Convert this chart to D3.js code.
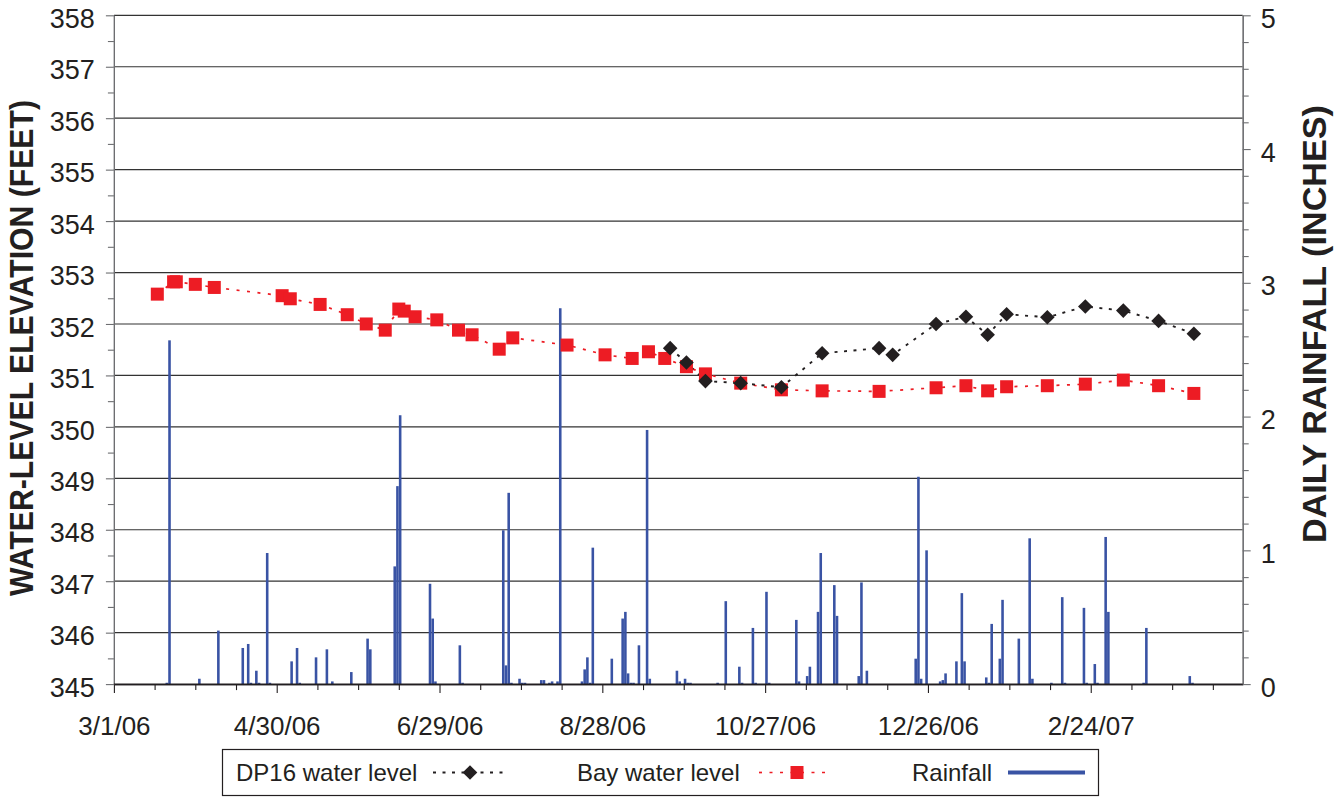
<!DOCTYPE html>
<html>
<head>
<meta charset="utf-8">
<script src="https://cdn.jsdelivr.net/npm/d3@7"></script>
<style>
  html, body { margin: 0; padding: 0; background: #fff; }
  svg { display: block; }
  text { font-family: "Liberation Sans", Arial, Helvetica, sans-serif; fill: #231f20; }
</style>
</head>
<body>
<svg id="chart" width="1338" height="797"></svg>
<script>
// ---- data ---------------------------------------------------------------
const axisStart = "3/1/06";
const axisEnd = "4/21/07";

// Bay water level (feet)
const bayDates = ["3/17/06","3/23/06","3/24/06","3/31/06","4/7/06","5/2/06","5/5/06","5/16/06","5/26/06","6/2/06",
  "6/9/06","6/14/06","6/16/06","6/20/06","6/28/06","7/6/06","7/11/06","7/21/06","7/26/06","8/15/06",
  "8/29/06","9/8/06","9/14/06","9/20/06","9/28/06","10/5/06","10/18/06","11/2/06","11/17/06","12/8/06",
  "12/29/06","1/9/07","1/17/07","1/24/07","2/8/07","2/22/07","3/8/07","3/21/07","4/3/07"];
const bayLevels = [352.58,352.82,352.82,352.77,352.71,352.55,352.49,352.38,352.18,352.00,
  351.88,352.29,352.25,352.14,352.08,351.88,351.79,351.51,351.73,351.59,
  351.40,351.33,351.46,351.33,351.17,351.03,350.85,350.72,350.70,350.69,
  350.76,350.80,350.70,350.78,350.80,350.83,350.91,350.80,350.65];

// DP16 water level (feet)
const dp16Dates = ["9/22/06","9/28/06","10/5/06","10/18/06","11/2/06","11/17/06","12/8/06","12/13/06","12/29/06",
  "1/9/07","1/17/07","1/24/07","2/8/07","2/22/07","3/8/07","3/21/07","4/3/07"];
const dp16Levels = [351.53,351.25,350.89,350.85,350.77,351.43,351.53,351.40,352.00,
  352.14,351.79,352.19,352.13,352.34,352.26,352.06,351.81];

// Daily rainfall (inches)
const rainDates = ["3/20/06","3/21/06","4/1/06","4/8/06","4/17/06","4/19/06","4/20/06","4/22/06","4/23/06","4/26/06",
  "4/27/06","5/5/06","5/7/06","5/8/06","5/14/06","5/18/06","5/20/06","5/27/06","6/2/06","6/3/06",
  "6/12/06","6/13/06","6/14/06","6/25/06","6/26/06","6/27/06","7/6/06","7/7/06","7/22/06","7/23/06",
  "7/24/06","7/25/06","7/28/06","7/29/06","7/30/06","8/5/06","8/6/06","8/8/06","8/9/06","8/11/06",
  "8/12/06","8/20/06","8/21/06","8/22/06","8/23/06","8/24/06","8/31/06","9/4/06","9/5/06","9/6/06",
  "9/7/06","9/8/06","9/10/06","9/13/06","9/14/06","9/24/06","9/25/06","9/27/06","9/28/06","9/29/06",
  "10/9/06","10/12/06","10/17/06","10/18/06","10/22/06","10/23/06","10/27/06","10/28/06","11/7/06","11/8/06",
  "11/11/06","11/12/06","11/15/06","11/16/06","11/21/06","11/22/06","11/30/06","12/1/06","12/3/06","12/21/06",
  "12/22/06","12/23/06","12/25/06","12/30/06","12/31/06","1/1/07","1/5/07","1/7/07","1/8/07","1/16/07",
  "1/17/07","1/18/07","1/21/07","1/22/07","1/28/07","2/1/07","2/2/07","2/9/07","2/13/07","2/14/07",
  "2/21/07","2/22/07","2/25/07","2/26/07","3/1/07","3/2/07","3/15/07","3/16/07","4/1/07","4/2/07"];
const rainInches = [0.01,2.57,0.04,0.40,0.27,0.30,0.01,0.10,0.01,0.98,
  0.01,0.17,0.27,0.01,0.20,0.26,0.02,0.09,0.34,0.26,
  0.88,1.48,2.01,0.75,0.49,0.02,0.29,0.01,1.15,0.14,
  1.43,0.01,0.04,0.01,0.01,0.03,0.03,0.01,0.02,0.02,
  2.81,0.02,0.11,0.20,0.01,1.02,0.19,0.49,0.54,0.08,
  0.01,0.01,0.29,1.90,0.04,0.10,0.02,0.04,0.01,0.01,
  0.01,0.62,0.13,0.01,0.42,0.01,0.69,0.01,0.48,0.02,
  0.06,0.13,0.54,0.98,0.74,0.51,0.06,0.76,0.10,0.19,
  1.55,0.04,1.00,0.02,0.03,0.08,0.17,0.68,0.17,0.05,
  0.01,0.45,0.19,0.63,0.34,1.09,0.04,0.01,0.65,0.01,
  0.57,0.01,0.15,0.01,1.10,0.54,0.01,0.42,0.06,0.01];

const levelTicks = d3.range(345, 359, 1);
const levelMinorTicks = d3.range(345.5, 358, 1);
const rainTicks = d3.range(0, 6, 1);
const rainMinorTicks = d3.range(0.2, 5, 0.2).filter(v => Math.abs(v - Math.round(v)) > 1e-6);
const dateTickDays = 15;   // minor date tick spacing
const dateLabelDays = 60;  // labelled date tick spacing

const legendItems = ["DP16 water level", "Bay water level", "Rainfall"];

// ---- setup --------------------------------------------------------------
const parse = d3.utcParse("%m/%d/%y");
const fmt = d3.utcFormat("%-m/%-d/%y");
const svg = d3.select("#chart");
const plot = { left: 113.9, right: 1242.7, top: 15.3, bottom: 684.1 };

const start = parse(axisStart), end = parse(axisEnd);
const x = d3.scaleUtc().domain([start, end]).range([plot.left, plot.right]);
const y = d3.scaleLinear().domain([345, 358]).range([plot.bottom, plot.top]);
const yRain = d3.scaleLinear().domain([0, 5]).range([plot.bottom, plot.top]);

const COLORS = { grid: "#333", axis: "#6d6e71", bay: "#ed1c24", dp16: "#231f20", rain: "#3953a4" };

const bay = bayDates.map((d, i) => ({ date: parse(d), v: bayLevels[i] }));
const dp16 = dp16Dates.map((d, i) => ({ date: parse(d), v: dp16Levels[i] }));
const rain = rainDates.map((d, i) => ({ date: parse(d), v: rainInches[i] }));

// ---- gridlines ----------------------------------------------------------
svg.append("g").selectAll("line")
  .data(levelTicks.filter(v => v > 345))
  .join("line")
  .attr("x1", plot.left).attr("x2", plot.right)
  .attr("y1", d => y(d)).attr("y2", d => y(d))
  .attr("stroke", COLORS.grid).attr("stroke-width", 1.2);

// ---- rainfall bars --------------------------------------------------------
const dayW = x(d3.utcDay.offset(start, 1)) - x(start);
svg.append("g").selectAll("rect")
  .data(rain)
  .join("rect")
  .attr("x", d => x(d.date) + dayW * 0.02)
  .attr("width", dayW * 0.95)
  .attr("y", d => yRain(d.v))
  .attr("height", d => yRain(0) - yRain(d.v))
  .attr("fill", COLORS.rain);

// ---- axes ---------------------------------------------------------------
const allDateTicks = d3.range(0, d3.utcDay.count(start, end) + 1, dateTickDays).map(n => d3.utcDay.offset(start, n));
const labelDateTicks = allDateTicks.filter(d => d3.utcDay.count(start, d) % dateLabelDays === 0);
const minorDateTicks = allDateTicks.filter(d => d3.utcDay.count(start, d) % dateLabelDays !== 0);

const styleAxis = (g, color) => {
  g.select(".domain").attr("stroke", color).attr("stroke-width", 1.2);
  g.selectAll(".tick line").attr("stroke", color).attr("stroke-width", 1.1);
};

// bottom
const gxMinor = svg.append("g").attr("transform", `translate(0,${plot.bottom})`)
  .call(d3.axisBottom(x).tickValues(minorDateTicks).tickSize(6).tickSizeOuter(0).tickFormat(""));
styleAxis(gxMinor, "#231f20");
const gx = svg.append("g").attr("transform", `translate(0,${plot.bottom})`)
  .call(d3.axisBottom(x).tickValues(labelDateTicks).tickSize(9).tickSizeOuter(0).tickPadding(23).tickFormat(fmt));
styleAxis(gx, "#231f20");
gx.selectAll("text").attr("font-size", 26).attr("font-family", null);

// left
const gyMinor = svg.append("g").attr("transform", `translate(${plot.left},0)`)
  .call(d3.axisLeft(y).tickValues(levelMinorTicks).tickSize(6).tickSizeOuter(0).tickFormat(""));
styleAxis(gyMinor, COLORS.axis);
const gy = svg.append("g").attr("transform", `translate(${plot.left},0)`)
  .call(d3.axisLeft(y).tickValues(levelTicks).tickSize(8).tickSizeOuter(0).tickPadding(11).tickFormat(d3.format("d")));
styleAxis(gy, COLORS.axis);
gy.selectAll("text").attr("font-size", 27).attr("dy", "0.45em").attr("font-family", null);

// right
const grMinor = svg.append("g").attr("transform", `translate(${plot.right},0)`)
  .call(d3.axisRight(yRain).tickValues(rainMinorTicks).tickSize(6).tickSizeOuter(0).tickFormat(""));
styleAxis(grMinor, COLORS.axis);
const gr = svg.append("g").attr("transform", `translate(${plot.right},0)`)
  .call(d3.axisRight(yRain).tickValues(rainTicks).tickSize(8).tickSizeOuter(0).tickPadding(10).tickFormat(d3.format("d")));
styleAxis(gr, COLORS.axis);
gr.selectAll("text").attr("font-size", 27).attr("dy", "0.45em").attr("font-family", null);

// bottom axis line on top of the bars
svg.append("line")
  .attr("x1", plot.left).attr("x2", plot.right)
  .attr("y1", plot.bottom).attr("y2", plot.bottom)
  .attr("stroke", "#231f20").attr("stroke-width", 1.3);

// ---- water-level series --------------------------------------------------
const line = d3.line().x(d => x(d.date)).y(d => y(d.v));
const diamond = "M0,-7.3L7.3,0L0,7.3L-7.3,0Z";
const sq = 13;

svg.append("path").datum(bay)
  .attr("d", line).attr("fill", "none")
  .attr("stroke", COLORS.bay).attr("stroke-width", 1.7).attr("stroke-dasharray", "3,7.5");
svg.append("path").datum(dp16)
  .attr("d", line).attr("fill", "none")
  .attr("stroke", COLORS.dp16).attr("stroke-width", 1.9).attr("stroke-dasharray", "3,6.5");

svg.append("g").selectAll("rect")
  .data(bay)
  .join("rect")
  .attr("x", d => x(d.date) - sq / 2).attr("y", d => y(d.v) - sq / 2)
  .attr("width", sq).attr("height", sq)
  .attr("fill", COLORS.bay);

svg.append("g").selectAll("path")
  .data(dp16)
  .join("path")
  .attr("d", diamond)
  .attr("transform", d => `translate(${x(d.date)},${y(d.v)})`)
  .attr("fill", COLORS.dp16);

// ---- axis titles -------------------------------------------------------------
svg.append("text")
  .attr("transform", "translate(33,348) rotate(-90)")
  .attr("text-anchor", "middle")
  .attr("font-size", 33).attr("font-weight", "bold")
  .attr("textLength", 496).attr("lengthAdjust", "spacingAndGlyphs")
  .text("WATER-LEVEL ELEVATION (FEET)");

svg.append("text")
  .attr("transform", "translate(1326,324) rotate(-90)")
  .attr("text-anchor", "middle")
  .attr("font-size", 33).attr("font-weight", "bold")
  .attr("textLength", 438).attr("lengthAdjust", "spacingAndGlyphs")
  .text("DAILY RAINFALL (INCHES)");

// ---- legend -------------------------------------------------------------------
const lg = svg.append("g");
lg.append("rect")
  .attr("x", 222.5).attr("y", 749.5).attr("width", 876).attr("height", 46)
  .attr("fill", "#fff").attr("stroke", "#231f20").attr("stroke-width", 1.2);

const legendBase = 781, legendMid = 772.5;
const legendText = [236, 577, 912];
lg.selectAll("text.lbl")
  .data(legendItems)
  .join("text").attr("class", "lbl")
  .attr("x", (d, i) => legendText[i]).attr("y", legendBase)
  .attr("font-size", 24)
  .text(d => d);

// DP16 key
lg.append("line").attr("x1", 433).attr("x2", 507).attr("y1", legendMid).attr("y2", legendMid)
  .attr("stroke", COLORS.dp16).attr("stroke-width", 1.9).attr("stroke-dasharray", "3,6.5");
lg.append("path").attr("d", diamond).attr("transform", `translate(470,${legendMid})`).attr("fill", COLORS.dp16);
// Bay key
lg.append("line").attr("x1", 759).attr("x2", 832).attr("y1", legendMid).attr("y2", legendMid)
  .attr("stroke", COLORS.bay).attr("stroke-width", 1.7).attr("stroke-dasharray", "3,7.5");
lg.append("rect").attr("x", 797 - sq / 2).attr("y", legendMid - sq / 2).attr("width", sq).attr("height", sq).attr("fill", COLORS.bay);
// Rainfall key
lg.append("line").attr("x1", 1008).attr("x2", 1085).attr("y1", legendMid).attr("y2", legendMid)
  .attr("stroke", COLORS.rain).attr("stroke-width", 4);
</script>
</body>
</html>
